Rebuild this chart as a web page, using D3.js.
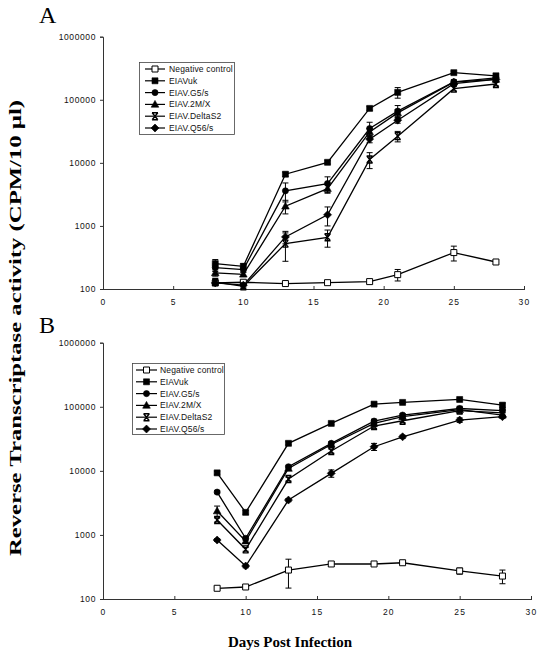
<!DOCTYPE html>
<html><head><meta charset="utf-8">
<script src="https://cdn.jsdelivr.net/npm/d3@7"></script>
<style>body{margin:0;background:#fff}svg{display:block}</style>
</head><body>
<svg id="c" width="545" height="657"></svg>
<script>
const days = [8,10,13,16,19,21,25,28];
const seriesNames = ["Negative  control","EIAVuk","EIAV.G5/s","EIAV.2M/X","EIAV.DeltaS2","EIAV.Q56/s"];
const seriesMarkers = ["openSquare","square","circle","triangle","xbar","diamond"];
const xTicks = [0,5,10,15,20,25,30];
const yTicks = [100,1000,10000,100000,1000000];

// Panel A
const negA = [125,128,122,126,131,169,378,268];
const negAErr = [10,8,5,8,8,35,100,18];
const ukA = [253,229,6600,10200,73000,131000,269000,240000];
const ukAErr = [40,22,500,600,5000,25000,15000,15000];
const g5A = [219,203,3600,4700,35000,66000,193000,223000];
const g5AErr = [30,18,1200,1300,9000,15000,15000,12000];
const m2A = [180,171,2050,3900,31000,62000,190000,210000];
const m2AErr = [20,14,500,600,4000,8000,10000,10000];
const dsA = [129,110,525,660,11300,26500,150000,178000];
const dsAErr = [12,8,250,200,3200,5000,12000,12000];
const q56A = [125,115,670,1500,23800,47500,180000,210000];
const q56AErr = [10,8,150,500,3000,5000,10000,10000];

// Panel B
const negB = [147,154,283,352,352,368,274,228];
const negBErr = [8,8,135,30,15,15,30,55];
const ukB = [9300,2250,26900,55000,110000,117000,130000,106000];
const ukBErr = [500,150,1500,2500,5000,5000,6000,8000];
const g5B = [4660,885,11600,26900,59800,74200,94000,87000];
const g5BErr = [250,60,600,1500,4000,4000,8000,6000];
const m2B = [2360,800,10900,25800,55000,70000,90000,74000];
const m2BErr = [460,60,600,1500,6000,4000,6000,6000];
const dsB = [1710,596,7450,20400,50000,60500,87000,80500];
const dsBErr = [120,40,500,1500,4000,4000,8000,6000];
const q56B = [832,327,3500,9140,23800,34000,62000,70000];
const q56BErr = [40,20,200,1200,3000,2000,5000,4000];

const svg = d3.select("#c");

function markerPath(type){
  switch(type){
    case "openSquare": case "square": return "M-3,-3H3V3H-3Z";
    case "circle": return d3.symbol(d3.symbolCircle, 30)();
    case "triangle": return "M0,-4L3.8,2.8H-3.8Z";
    case "diamond": return "M0,-4L4,0L0,4L-4,0Z";
    case "xbar": return "M-3,-3.5H3M-3,3.5H3M-2.8,-3.5L2.8,3.5M2.8,-3.5L-2.8,3.5";
  }
}
function drawMarker(g, type, x, y){
  const p = g.append("path").attr("d", markerPath(type)).attr("transform", `translate(${x},${y})`);
  if(type==="openSquare") p.attr("fill","#fff").attr("stroke","#000").attr("stroke-width",1);
  else if(type==="xbar") p.attr("fill","none").attr("stroke","#000").attr("stroke-width",1.4);
  else p.attr("fill","#000").attr("stroke","#000").attr("stroke-width",0.6);
}

function panel(cfg){
  const x = d3.scaleLinear().domain([0,30]).range([cfg.x0, cfg.x1]);
  const y = d3.scaleLog().domain([100,1000000]).range([cfg.y0, cfg.y1]);
  const g = svg.append("g");
  const ya = g.append("g").attr("transform",`translate(${cfg.x0},0)`)
    .call(d3.axisLeft(y).tickValues(yTicks).tickFormat(d3.format("d")).tickSize(3).tickPadding(4));
  ya.select(".domain").attr("stroke","#333");
  ya.selectAll(".tick line").attr("stroke","#333");
  ya.selectAll("text").attr("font-family","Liberation Sans, Arial, sans-serif").attr("font-size",8.5).attr("letter-spacing",0.6).attr("fill","#111");
  const xa = g.append("g").attr("transform",`translate(0,${cfg.y0})`)
    .call(d3.axisBottom(x).tickValues(xTicks).tickSizeInner(-3).tickSizeOuter(0).tickPadding(10));
  xa.select(".domain").attr("stroke","#333");
  xa.selectAll(".tick line").attr("stroke","#333").attr("y2",-3).attr("y1",1);
  xa.selectAll("text").attr("font-family","Liberation Sans, Arial, sans-serif").attr("font-size",8.5).attr("letter-spacing",1.2).attr("fill","#111");

  cfg.series.forEach((s,i)=>{
    const pts = days.map((d,j)=>({d, v:s.vals[j], e:s.errs[j]}));
    g.append("path").datum(pts)
      .attr("d", d3.line().x(p=>x(p.d)).y(p=>y(p.v)))
      .attr("fill","none").attr("stroke","#000").attr("stroke-width",1.3);
  });
  cfg.series.forEach((s,i)=>{
    days.forEach((d,j)=>{
      const v=s.vals[j], e=s.errs[j];
      const top = y(v+e), bot = y(Math.max(v-e, 101));
      g.append("path").attr("d",`M${x(d)},${top}V${bot}M${x(d)-3},${top}H${x(d)+3}M${x(d)-3},${bot}H${x(d)+3}`)
        .attr("stroke","#000").attr("stroke-width",1).attr("fill","none");
      drawMarker(g, seriesMarkers[i], x(d), y(v));
    });
  });

  const L = cfg.legend;
  g.append("rect").attr("x",L.x).attr("y",L.y).attr("width",L.w).attr("height",L.h)
    .attr("fill","#fff").attr("stroke","#444").attr("stroke-width",0.8);
  seriesNames.forEach((n,i)=>{
    const yy = L.y + 6.5 + i*11.8;
    g.append("line").attr("x1",L.lx0).attr("x2",L.lx1).attr("y1",yy).attr("y2",yy)
      .attr("stroke","#000").attr("stroke-width",1.2);
    drawMarker(g, seriesMarkers[i], (L.lx0+L.lx1)/2, yy);
    g.append("text").attr("x",L.tx).attr("y",yy+3)
      .attr("font-family","Liberation Sans, Arial, sans-serif").attr("font-size",8.5)
      .attr("letter-spacing",0.15).attr("fill","#111").text(n);
  });
}

panel({x0:103, x1:524, y0:289, y1:36.7,
  series:[{vals:negA,errs:negAErr},{vals:ukA,errs:ukAErr},{vals:g5A,errs:g5AErr},{vals:m2A,errs:m2AErr},{vals:dsA,errs:dsAErr},{vals:q56A,errs:q56AErr}],
  legend:{x:139.5,y:62.5,w:95,h:72,lx0:145,lx1:165,tx:169}});
panel({x0:103, x1:531, y0:599, y1:342.7,
  series:[{vals:negB,errs:negBErr},{vals:ukB,errs:ukBErr},{vals:g5B,errs:g5BErr},{vals:m2B,errs:m2BErr},{vals:dsB,errs:dsBErr},{vals:q56B,errs:q56BErr}],
  legend:{x:132.5,y:363.5,w:92,h:71,lx0:136,lx1:157,tx:160}});

svg.append("text").attr("x",39).attr("y",23).attr("font-family","Liberation Serif, Times New Roman, serif")
  .attr("font-size",24).text("A");
svg.append("text").attr("x",39).attr("y",333).attr("font-family","Liberation Serif, Times New Roman, serif")
  .attr("font-size",24).text("B");

svg.append("text").attr("transform","translate(21,328) rotate(-90)").attr("text-anchor","middle")
  .attr("font-family","Liberation Serif, Times New Roman, serif").attr("font-weight","bold")
  .attr("font-size",16).attr("textLength",456).attr("lengthAdjust","spacingAndGlyphs")
  .text("Reverse Transcriptase activity (CPM/10 µl)");
svg.append("text").attr("x",290).attr("y",647).attr("text-anchor","middle")
  .attr("font-family","Liberation Serif, Times New Roman, serif").attr("font-weight","bold")
  .attr("font-size",15).text("Days Post Infection");
</script>
</body></html>
